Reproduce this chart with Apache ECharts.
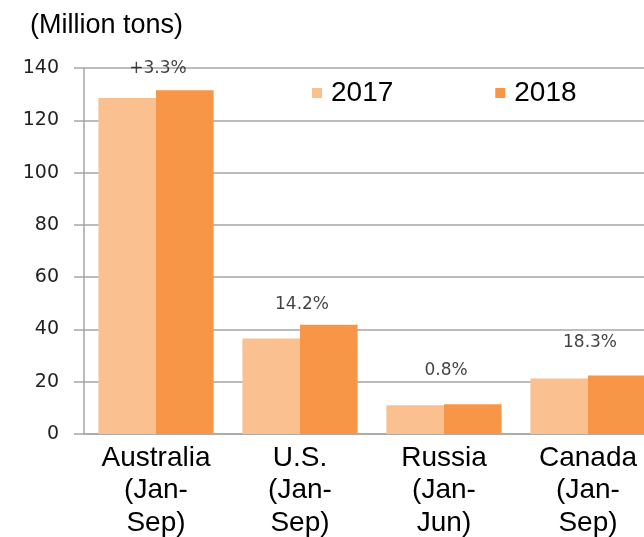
<!DOCTYPE html>
<html>
<head>
<meta charset="utf-8">
<style>
  html, body { margin: 0; padding: 0; background: #fff; }
  #main { width: 644px; height: 537px; }
</style>
<script src="https://cdn.jsdelivr.net/npm/echarts@6/dist/echarts.min.js"></script>
</head>
<body>
<div id="main"></div>
<script>
// 数据
var categories = ["Australia\n(Jan-\nSep)", "U.S.\n(Jan-\nSep)", "Russia\n(Jan-\nJun)", "Canada\n(Jan-\nSep)"];
var values2017 = [128.5, 36.5, 11.0, 21.2];
var values2018 = [131.5, 41.8, 11.4, 22.4];
var growthText = ["+3.3%", "14.2%", "0.8%", "18.3%"];
var growthAt = [139.7, 49.5, 24.2, 34.9];
var yTicks = [0, 20, 40, 60, 80, 100, 120, 140];

var myChart = echarts.init(document.getElementById("main"));

myChart.setOption({
  animation: false,
  title: {
    text: "(Million tons)",
    left: 30,
    top: 12,
    padding: 0,
    textStyle: {
      fontFamily: "Liberation Sans, Arial",
      fontSize: 27,
      fontWeight: "normal",
      color: "#000"
    }
  },
  legend: {
    data: ["2017", "2018"],
    left: 312,
    top: 79,
    padding: 0,
    icon: "rect",
    itemWidth: 10,
    itemHeight: 10,
    itemGap: 102,
    textStyle: {
      fontFamily: "Liberation Sans, Arial",
      fontSize: 28,
      lineHeight: 28,
      color: "#000",
      padding: [0, 0, 0, 4]
    }
  },
  grid: {
    left: 84,
    right: -16,
    top: 68,
    bottom: 103,
    containLabel: false,
    outerBoundsMode: "none"
  },
  xAxis: {
    type: "category",
    data: categories,
    axisLine: { lineStyle: { color: "#a6a6a6", width: 1.5 } },
    axisTick: { show: false },
    axisLabel: {
      interval: 0,
      margin: 8,
      fontFamily: "Liberation Sans, Arial",
      fontSize: 28,
      lineHeight: 32.5,
      color: "#000"
    }
  },
  yAxis: {
    type: "value",
    min: yTicks[0],
    max: yTicks[yTicks.length - 1],
    interval: 20,
    axisLine: { show: true, lineStyle: { color: "#a6a6a6", width: 1.5 } },
    axisTick: { show: true, length: 10, lineStyle: { color: "#a6a6a6", width: 1.5 } },
    splitLine: { lineStyle: { color: "#a6a6a6", width: 1.5 } },
    axisLabel: {
      margin: 25,
      fontFamily: "DejaVu Sans",
      fontSize: 19,
      color: "#222"
    }
  },
  series: [
    {
      name: "2017",
      type: "bar",
      data: values2017,
      barGap: "0%",
      barCategoryGap: "20%",
      itemStyle: { color: "#fac090" }
    },
    {
      name: "2018",
      type: "bar",
      data: values2018,
      itemStyle: { color: "#f79646" }
    },
    {
      name: "growth",
      type: "scatter",
      data: growthAt,
      symbolSize: 1,
      silent: true,
      itemStyle: { color: "rgba(0,0,0,0)" },
      label: {
        show: true,
        position: "inside",
        offset: [2, 0],
        formatter: function (p) { return growthText[p.dataIndex]; },
        fontFamily: "DejaVu Sans",
        fontSize: 17,
        color: "#111"
      }
    }
  ]
});
</script>
</body>
</html>
